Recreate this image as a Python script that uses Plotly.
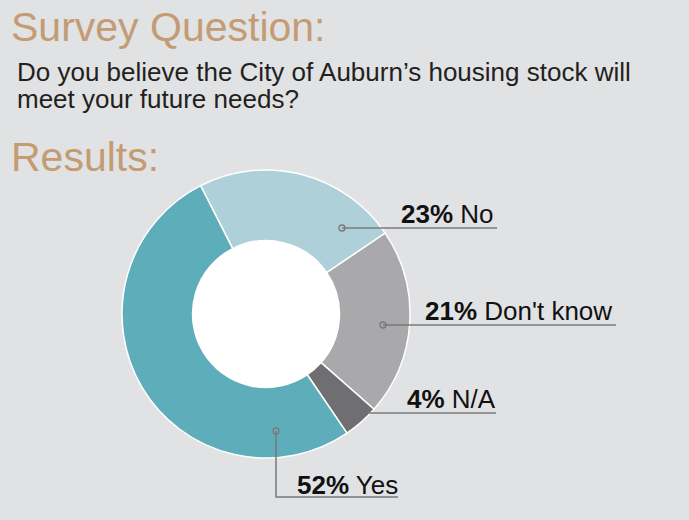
import plotly.graph_objects as go

# Survey responses
labels = ["No", "Don't know", "N/A", "Yes"]
values = [23, 21, 4, 52]
colors = ["#aed0d8", "#a9a9ab", "#6f6f71", "#5eadba"]

title_text = "Survey Question:"
question_lines = ["Do you believe the City of Auburn’s housing stock will",
                  "meet your future needs?"]
results_text = "Results:"

W, H = 689, 520
BG = "#e1e2e4"
TAN = "#c49c74"
LINE = "#7a7a7a"

# donut geometry (pixels)
CX, CY, R = 266, 314, 144
HOLE = 0.51


def px(x):
    return x / W


def py(y):
    return 1 - y / H


fig = go.Figure(go.Pie(
    labels=labels,
    values=values,
    sort=False,
    direction="clockwise",
    rotation=-27,
    hole=HOLE,
    marker=dict(colors=colors, line=dict(color="white", width=1.5)),
    textinfo="none",
    hoverinfo="label+percent",
    domain=dict(x=[px(CX - R), px(CX + R)], y=[py(CY + R), py(CY - R)]),
    showlegend=False,
))

shapes = []
annotations = []

# white centre of the donut
hr = R * HOLE
shapes.append(dict(type="circle", xref="paper", yref="paper", layer="below",
                   x0=px(CX - hr), x1=px(CX + hr), y0=py(CY + hr), y1=py(CY - hr),
                   fillcolor="white", line=dict(width=0)))


def text_at(x, baseline, text, size, color, weight=None, family="Liberation Sans"):
    """Place a single line of text by its left edge and baseline (pixels)."""
    font = dict(family=family, size=size, color=color)
    if weight:
        font["weight"] = weight
    annotations.append(dict(x=px(x), y=py(baseline - 0.37 * size), xref="paper", yref="paper",
                            xanchor="left", yanchor="middle", showarrow=False,
                            text=text, font=font, borderpad=0))


text_at(10, 42, title_text, 41, TAN, weight=300)
text_at(16, 82, question_lines[0], 26, "#231f20")
text_at(16, 109, question_lines[1], 26, "#231f20")
text_at(10, 172, results_text, 41, TAN, weight=300)

# callouts: dot position, path of the leader line, text start and baseline
callouts = [
    dict(dot=(342, 228), path=[(342, 228), (497, 228)], text=(400, 224)),
    dict(dot=(383, 325), path=[(383, 325), (616, 325)], text=(424, 321)),
    dict(dot=None, path=[(368, 413), (496, 413)], text=(406, 409)),
    dict(dot=(276, 431), path=[(276, 431), (276, 497), (398, 497)], text=(296, 495)),
]

for lab, val, c in zip(labels, values, callouts):
    pts = c["path"]
    d = "M " + " L ".join(f"{px(x)},{py(y)}" for x, y in pts)
    shapes.append(dict(type="path", xref="paper", yref="paper", path=d,
                       line=dict(color=LINE, width=1.5)))
    if c["dot"]:
        dx, dy = c["dot"]
        rr = 3
        shapes.append(dict(type="circle", xref="paper", yref="paper",
                           x0=px(dx - rr), x1=px(dx + rr), y0=py(dy + rr), y1=py(dy - rr),
                           line=dict(color=LINE, width=1.3), fillcolor="rgba(0,0,0,0)"))
    tx, tb = c["text"]
    text_at(tx, tb, f"<b>{val}%</b> {lab}", 26, "#111111")

fig.update_layout(
    width=W, height=H,
    margin=dict(l=0, r=0, t=0, b=0),
    paper_bgcolor=BG, plot_bgcolor=BG,
    shapes=shapes, annotations=annotations,
)

fig.write_html("out.html")
